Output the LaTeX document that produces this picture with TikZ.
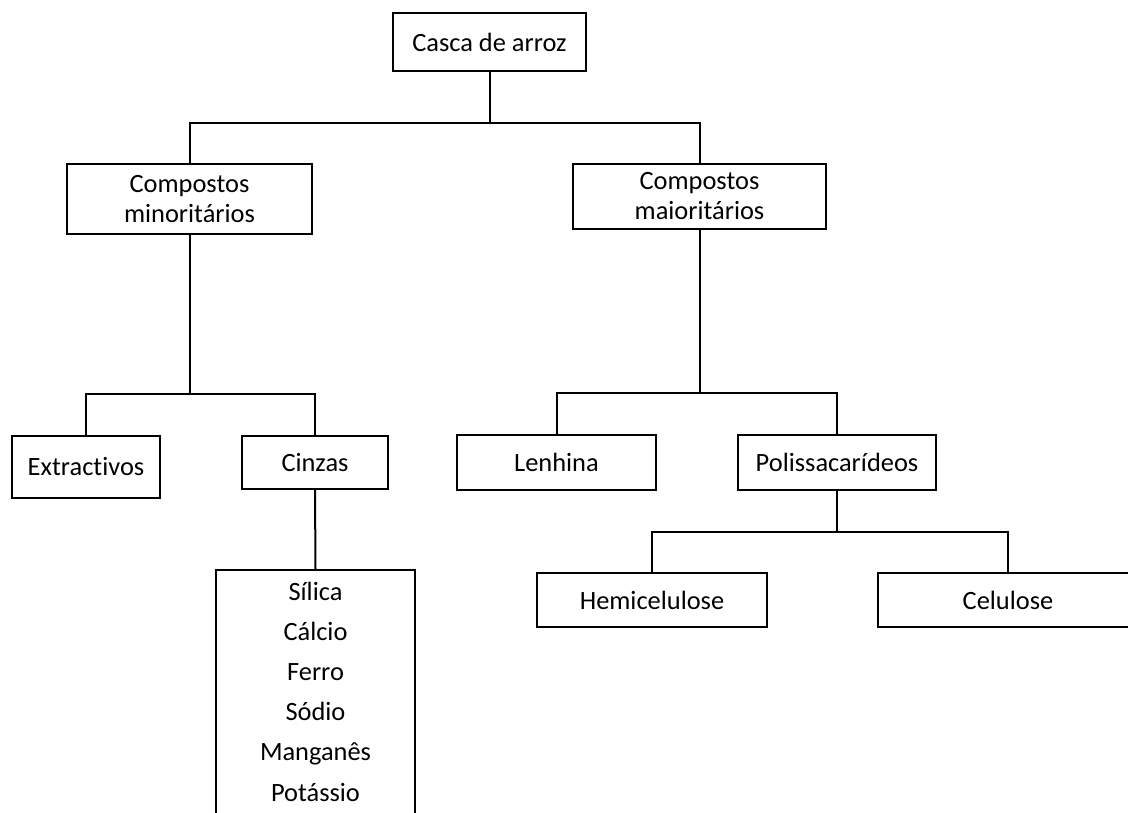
\documentclass[tikz,border=0pt]{standalone}
\usepackage{fontspec}
\setmainfont{Carlito}[Ligatures={NoCommon,NoRare,NoDiscretionary}]
\begin{document}
\begin{tikzpicture}[x=1pt,y=-1pt,
  every node/.style={font=\fontsize{26.4}{30}\selectfont},
  box/.style={draw, line width=2pt, rectangle, inner sep=0pt, align=center},
  conn/.style={line width=2pt}]
\path[use as bounding box] (0,0) rectangle (1128,812);
\clip (0,0) rectangle (1128,812);
% boxes
\node[box, minimum width=193, minimum height=58] (casca) at (489.5,42) {Casca de arroz};
\node[box, minimum width=245, minimum height=70] (cmin) at (189.5,199) {Compostos\\minoritários};
\node[box, minimum width=253, minimum height=65] (cmai) at (699.5,196.5) {Compostos\\maioritários};
\node[box, minimum width=148, minimum height=62] (extr) at (86,467) {Extractivos};
\node[box, minimum width=146, minimum height=53] (cinz) at (315,462.5) {Cinzas};
\node[box, minimum width=199, minimum height=55] (lenh) at (556.5,462.5) {Lenhina};
\node[box, minimum width=198, minimum height=55] (poli) at (837,462.5) {Polissacarídeos};
\node[box, minimum width=230, minimum height=54] (hemi) at (652,600) {Hemicelulose};
\node[box, minimum width=260, minimum height=54] (celu) at (1008,600) {Celulose};
\node[box, minimum width=199, minimum height=270] (list) at (315.5,705) {};
% list items
\node[anchor=base] (l1) at (315.5,600) {Sílica};
\node[anchor=base] (l2) at (315.5,640) {Cálcio};
\node[anchor=base] (l3) at (315.5,680) {Ferro};
\node[anchor=base] (l4) at (315.5,720) {Sódio};
\node[anchor=base] (l5) at (315.5,760) {Manganês};
\node[anchor=base] (l6) at (315.5,801) {Potássio};
% junctions
\coordinate (j1) at (489.5,123);
\coordinate (j2) at (189.5,394);
\coordinate (j3) at (699.5,393);
\coordinate (j4) at (837,532);
% connectors
\draw[conn] (casca.south) -- (j1);
\draw[conn] (cmin.north) |- (j1) -| (cmai.north);
\draw[conn] (cmin.south) -- (j2);
\draw[conn] (extr.north) |- (j2) -| (cinz.north);
\draw[conn] (cinz.south) -- (list.north);
\draw[conn] (cmai.south) -- (j3);
\draw[conn] (lenh.north) |- (j3) -| (poli.north);
\draw[conn] (poli.south) -- (j4);
\draw[conn] (hemi.north) |- (j4) -| (celu.north);
\end{tikzpicture}
\end{document}
